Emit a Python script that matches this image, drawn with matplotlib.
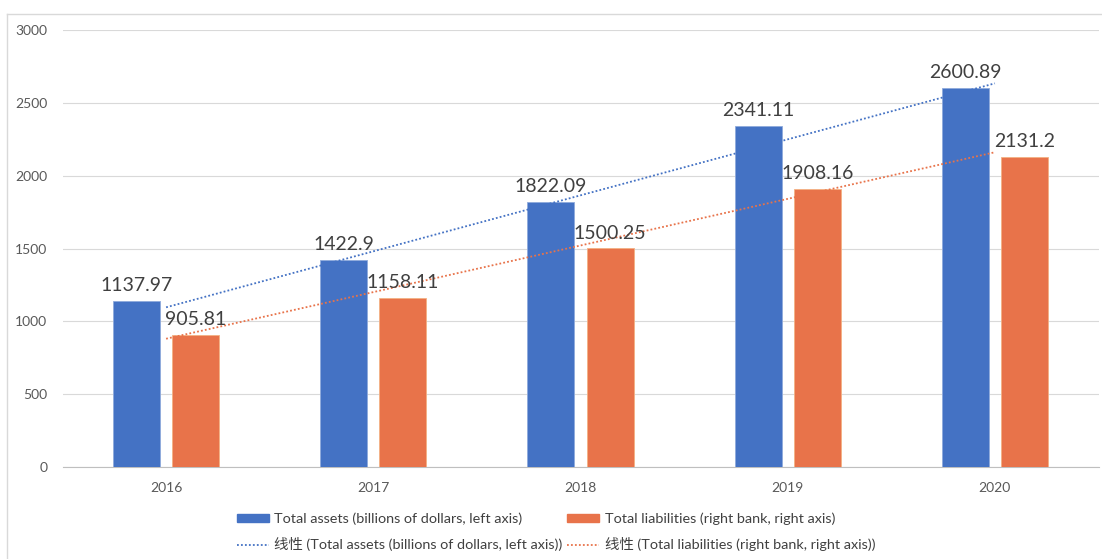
import numpy as np
import matplotlib.pyplot as plt
from matplotlib.lines import Line2D

years = ["2016", "2017", "2018", "2019", "2020"]
total_assets = [1137.97, 1422.9, 1822.09, 2341.11, 2600.89]
total_liabilities = [905.81, 1158.11, 1500.25, 1908.16, 2131.2]

assets_label = "Total assets (billions of dollars, left axis)"
liab_label = "Total liabilities (right bank, right axis)"

blue = "#4472C4"
orange = "#E8734A"

plt.rcParams["font.family"] = ["Lato", "Noto Sans CJK SC", "DejaVu Sans"]

fig = plt.figure(figsize=(11.02, 5.59), dpi=100)
ax = fig.add_axes([62.5 / 1102, 1 - 467 / 559, 1036 / 1102, 437 / 559])

x = np.arange(len(years))
w = 0.227
off = 0.143

b1 = ax.bar(x - off, total_assets, w, color=blue, edgecolor="#8FAADC", linewidth=0.6, zorder=3)
b2 = ax.bar(x + off, total_liabilities, w, color=orange, edgecolor="#F4B183", linewidth=0.6, zorder=3)

for rects, vals in ((b1, total_assets), (b2, total_liabilities)):
    for r, v in zip(rects, vals):
        ax.annotate(f"{v:g}", (r.get_x() + r.get_width() / 2, v),
                    xytext=(0, 5), textcoords="offset points",
                    ha="center", va="bottom", fontsize=14, color="#404040", zorder=5)

# linear trendlines over the category positions
xs = np.arange(1, len(years) + 1)
tr1 = np.polyval(np.polyfit(xs, total_assets, 1), xs)
tr2 = np.polyval(np.polyfit(xs, total_liabilities, 1), xs)
ax.plot(x, tr1, linestyle=(0, (1, 1.2)), color=blue, lw=1.3, zorder=4)
ax.plot(x, tr2, linestyle=(0, (1, 1.2)), color=orange, lw=1.3, zorder=4)

ax.set_xlim(-0.5, 4.5)
ax.set_ylim(0, 3000)
ax.set_yticks(range(0, 3001, 500))
ax.set_xticks(x, years)
ax.tick_params(axis="y", length=0, pad=11, labelsize=10, labelcolor="#595959")
ax.tick_params(axis="x", length=0, pad=11, labelsize=10, labelcolor="#595959")
ax.grid(axis="y", color="#D9D9D9", lw=0.8, zorder=0)
for s in ("top", "right", "left"):
    ax.spines[s].set_visible(False)
ax.spines["bottom"].set_color("#BFBFBF")
ax.spines["bottom"].set_linewidth(0.8)

handles = [
    plt.Rectangle((0, 0), 1, 1, color=blue),
    Line2D([], [], linestyle=(0, (1, 1.2)), color=blue, lw=1.3),
    plt.Rectangle((0, 0), 1, 1, color=orange),
    Line2D([], [], linestyle=(0, (1, 1.2)), color=orange, lw=1.3),
]
labels = [assets_label, "线性 (" + assets_label + ")", liab_label, "线性 (" + liab_label + ")"]
leg = fig.legend(handles, labels, loc="center", bbox_to_anchor=(556 / 1102, 1 - 532 / 559),
                 ncol=2, frameon=False, fontsize=10.4, handlelength=2.2, handleheight=0.5,
                 handletextpad=0.4, columnspacing=0.3, labelspacing=0.85)
for t in leg.get_texts():
    t.set_color("#404040")

# chart frame
fig.add_artist(Line2D([7 / 1102, 7 / 1102], [0, 1 - 14 / 559], color="#D9D9D9", lw=1))
fig.add_artist(Line2D([7 / 1102, 1], [1 - 14 / 559, 1 - 14 / 559], color="#D9D9D9", lw=1))

fig.savefig("out.png", dpi=100, facecolor="white")
